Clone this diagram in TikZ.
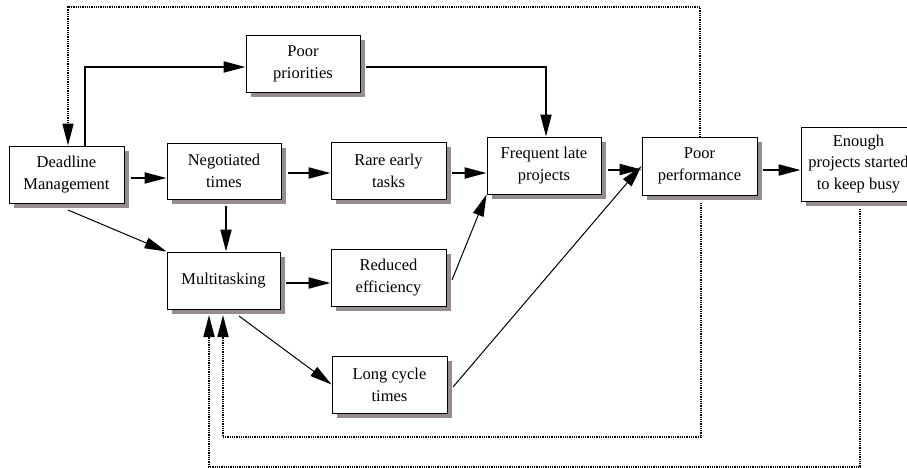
\documentclass[tikz,border=0pt]{standalone}
\usepackage{fontspec}
\setmainfont{Liberation Serif}
\usetikzlibrary{arrows.meta}
\definecolor{shadowc}{RGB}{150,140,140}
\begin{document}
\begin{tikzpicture}[x=1pt,y=-1pt,
  box/.style={draw=black,line width=0.9pt,fill=white,align=center,
    minimum width=115pt,minimum height=57pt,inner sep=0pt,
    font=\fontsize{16.5}{22}\selectfont},
  tip/.style={-{Triangle[length=22pt,width=11pt]}},
  arr/.style={line width=2pt,tip},
  thinarr/.style={line width=1pt,tip},
  dotarr/.style={line width=1.7pt,dash pattern=on 1pt off 0.8pt,tip}]
\useasboundingbox (0,0) rectangle (907,468);
\clip (0,0) rectangle (907,468);

% box shadows (drawn first, under the boxes)
\foreach \cx/\cy/\w/\h in {66.5/174.5/115/57, 224/171/114/56, 303/63.5/114/57,
    388.5/170.5/115/57, 544/165.5/114/57, 388.5/277.5/115/57, 223.5/280.5/113/57,
    389.5/384.5/115/57, 699.5/166/115/58, 858.5/164/115/74}
  \fill[shadowc] (\cx-\w/2+4.5,\cy-\h/2+5) rectangle (\cx+\w/2+4.5,\cy+\h/2+5);

\node[box] (DM) at (66.5,174.5) {Deadline\\Management};
\node[box,minimum width=114pt,minimum height=56pt] (NT) at (224,171) {Negotiated\\times};
\node[box,minimum width=114pt] (PP) at (303,63.5) {Poor\\priorities};
\node[box] (RE) at (388.5,170.5) {Rare early\\tasks};
\node[box,minimum width=114pt] (FL) at (544,165.5) {Frequent late\\projects};
\node[box] (RD) at (388.5,277.5) {Reduced\\efficiency};
\node[box,minimum width=113pt] (MT) at (223.5,280.5) {Multitasking};
\node[box] (LC) at (389.5,384.5) {Long cycle\\times};
\node[box,minimum height=58pt] (PF) at (699.5,166) {Poor\\performance};
\node[box,minimum height=74pt,font=\fontsize{16.5}{21.5}\selectfont] (EN) at (858.5,164) {Enough\\projects started\\to keep busy};

% solid arrows
\draw[arr] ([xshift=7pt]DM.east |- 0,178) -- (NT.west |- 0,178);
\draw[arr] ([xshift=7pt]NT.east |- 0,173) -- (RE.west |- 0,173);
\draw[arr] ([xshift=6pt]RE.east |- 0,173) -- (FL.west |- 0,173);
\draw[arr] ([xshift=7pt]FL.east |- 0,169.5) -- (PF.west |- 0,169.5);
\draw[arr] ([xshift=6pt]PF.east |- 0,170) -- (EN.west |- 0,170);
\draw[arr] (226,206) coordinate (ntb) -- (ntb |- MT.north);
\draw[arr] ([xshift=6pt]MT.east |- 0,283) -- (RD.west |- 0,283);
\draw[arr] (DM.north -| 85,0) -- (85,67) -- (PP.west |- 0,67);
\draw[arr] ([xshift=6pt]PP.east |- 0,67) -- (546,67) coordinate (flt) -- (FL.north -| flt);

% thin arrows
\draw[thinarr] (68,210) coordinate (dmb) -- (MT.north west);
\draw[thinarr] (239,316) coordinate (mtb) -- (LC.west);
\draw[thinarr] (452,280) coordinate (rdr) -- (FL.south west);
\draw[thinarr] (453,387) coordinate (lcr) -- (PF.west);

% dotted feedback loops
\draw[dotarr] (PF.north -| 700,0) -- (700,7) -- (68,7) -- (DM.north -| 68,0);
\draw[dotarr] (701,203) coordinate (pfb) -- (701,437) -- (223,437) -- (223,315);
\draw[dotarr] (860,209) coordinate (enb) -- (860,467) -- (209,467) -- (209,315);
\end{tikzpicture}
\end{document}
